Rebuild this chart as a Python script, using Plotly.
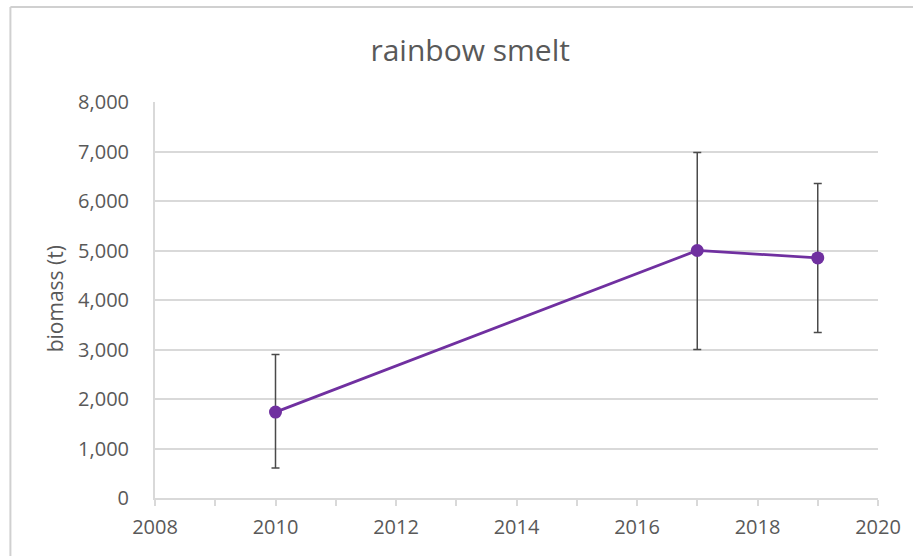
import plotly.graph_objects as go

years = [2010, 2017, 2019]
biomass = [1735, 5000, 4850]
err_upper = [2900, 6980, 6355]
err_lower = [605, 3000, 3345]

plus = [u - v for u, v in zip(err_upper, biomass)]
minus = [v - l for v, l in zip(biomass, err_lower)]

title_text = "rainbow smelt"
y_title = "biomass (t)"

txt = "#595959"
grid = "#D9D9D9"
font_family = "Open Sans, Lato, sans-serif"

W, H = 913, 556
L, R, T, B = 155, 33, 102, 58
pw, ph = W - L - R, H - T - B

fig = go.Figure()
fig.add_trace(go.Scatter(
    x=years, y=biomass, mode="lines+markers",
    line=dict(color="#7030A0", width=2.75),
    marker=dict(color="#7030A0", size=13),
    error_y=dict(type="data", symmetric=False, array=plus, arrayminus=minus,
                 color="#4A4A4A", thickness=1.5, width=4),
    showlegend=False,
))

fig.update_layout(
    width=W, height=H,
    margin=dict(l=L, r=R, t=T, b=B),
    paper_bgcolor="white", plot_bgcolor="white",
    font=dict(family=font_family, color=txt, size=19),
    title=dict(text=title_text, x=0.515, xanchor="center", y=0.91, yanchor="middle",
               font=dict(size=30, color=txt, family=font_family)),
    xaxis=dict(range=[2008, 2020], dtick=2, tick0=2008, showgrid=False,
               showline=True, linecolor=grid, linewidth=2,
               ticks="outside", ticklen=6, tickcolor=grid, tickwidth=1.5,
               minor=dict(dtick=1, ticks="outside", ticklen=6, tickcolor=grid, tickwidth=1.5),
               tickfont=dict(size=20, color=txt), zeroline=False,
               ticklabelstandoff=4),
    yaxis=dict(range=[0, 8000], dtick=1000, tickformat=",", showgrid=True,
               gridcolor=grid, gridwidth=2, showline=True, linecolor=grid, linewidth=2,
               ticks="", tickfont=dict(size=20, color=txt), zeroline=False,
               ticklabelstandoff=20),
)

fig.add_annotation(text=y_title, xref="paper", yref="paper",
                   x=(55 - L) / pw, y=(H - B - 299) / ph, textangle=-90, showarrow=False,
                   xanchor="center", yanchor="middle",
                   font=dict(size=21, color=txt, family=font_family))

# chart frame border (left and top edges visible)
fig.add_shape(type="line", xref="paper", yref="paper",
              x0=(10 - L) / pw, x1=(10 - L) / pw,
              y0=(H - B - 560) / ph, y1=(H - B - 7) / ph,
              line=dict(color="#D0D0D0", width=2))
fig.add_shape(type="line", xref="paper", yref="paper",
              x0=(10 - L) / pw, x1=(920 - L) / pw,
              y0=(H - B - 7) / ph, y1=(H - B - 7) / ph,
              line=dict(color="#D0D0D0", width=2))

fig.write_html("out.html", config={"displayModeBar": False},
               post_script="document.body.style.margin='0';")
